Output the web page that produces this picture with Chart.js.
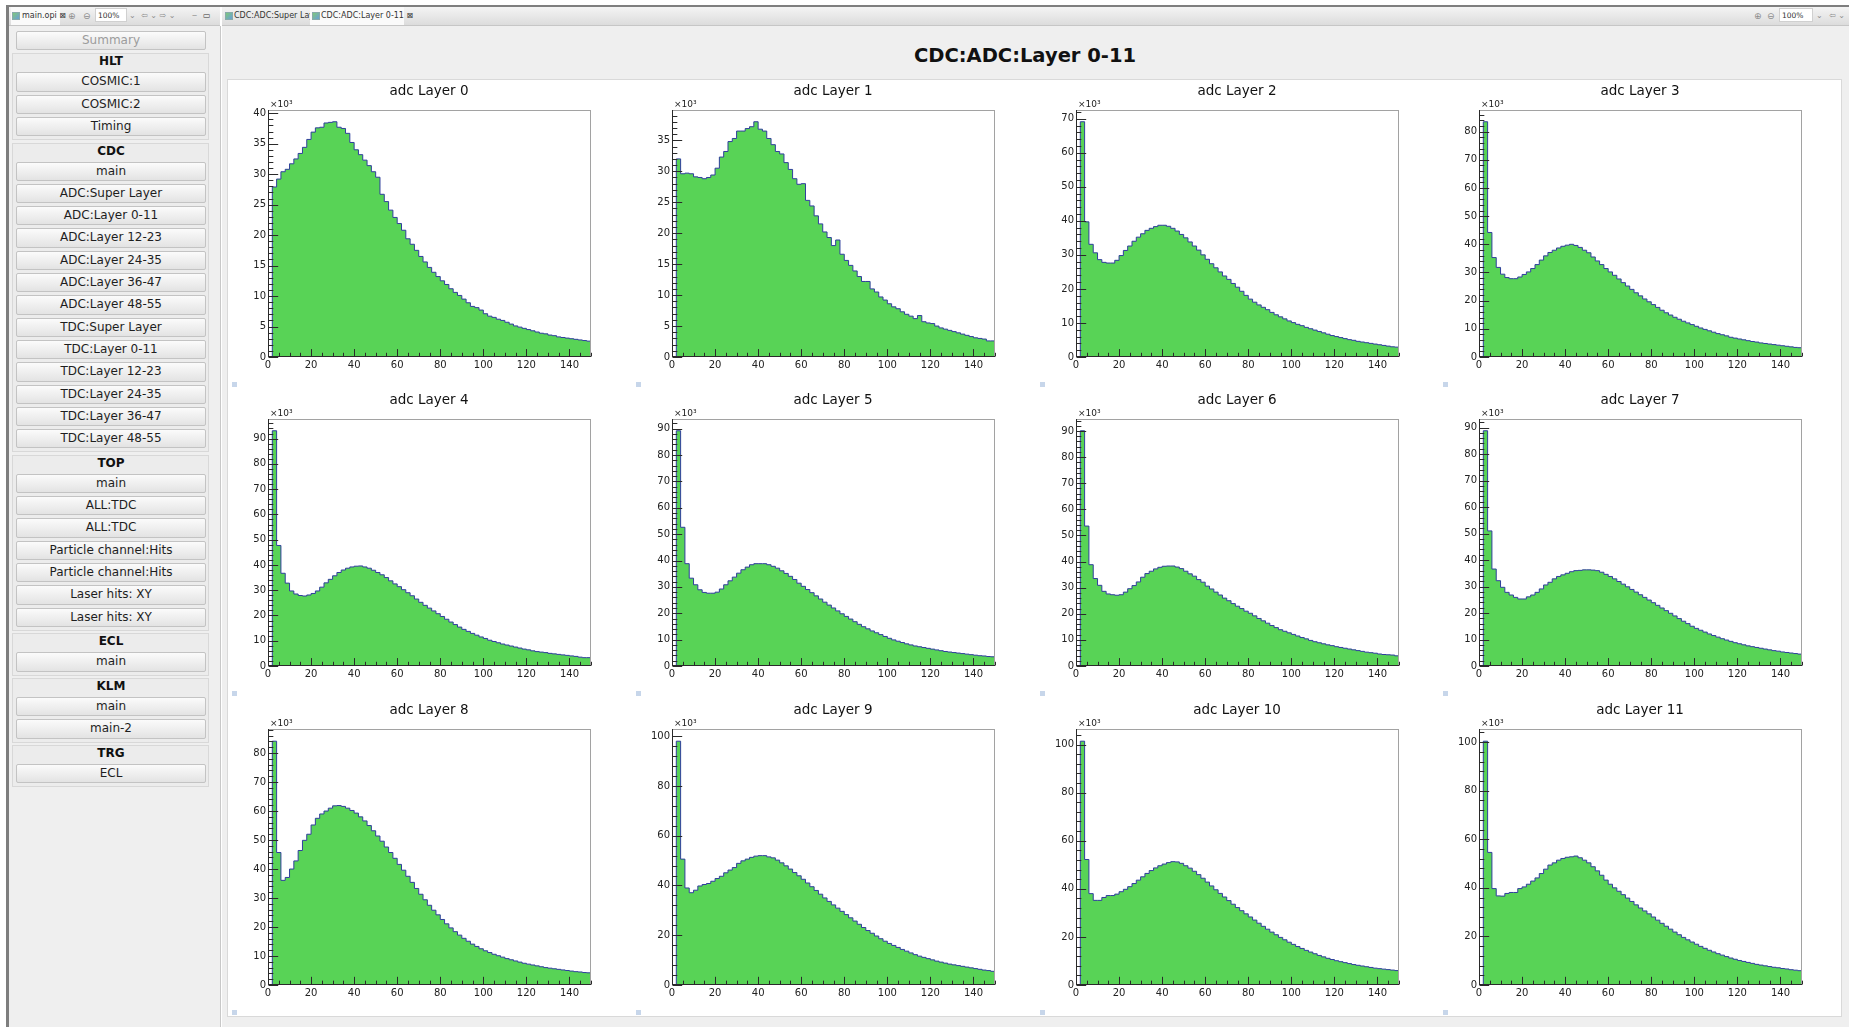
<!DOCTYPE html>
<html>
<head>
<meta charset="utf-8">
<title>CDC:ADC:Layer 0-11</title>
<script src="https://cdn.jsdelivr.net/npm/chart.js@4.4.1/dist/chart.umd.min.js"></script>
<style>
body { margin:0; width:1849px; height:1027px; overflow:hidden; background:#fff; font-family:"DejaVu Sans", sans-serif; position:relative; }
#edgeTop { position:absolute; left:6px; top:5px; width:1843px; height:2px; background:#7e7e7e; }
#edgeLeft { position:absolute; left:6px; top:5px; width:3px; height:1022px; background:#7e7e7e; }
.bar { position:absolute; top:7px; height:18px; background:linear-gradient(#f4f4f4,#dcdcdc); border-bottom:1px solid #c6c6c6; font-size:8px; color:#333; white-space:nowrap; }
.bar span { position:absolute; top:0; line-height:18px; }
.ico { width:8px; height:8px; top:5px !important; background:linear-gradient(135deg,#7fc97a,#6a9fd8); border:1px solid #8aa; box-sizing:border-box; }
.sel { background:#fafafa; height:18px; }
.zbox { background:#fff; border:1px solid #d0d0d0; height:14px; top:1px !important; line-height:14px !important; padding-left:2px; box-sizing:border-box; font-size:7.5px; }
.grey { color:#8c8c8c; }
#side { position:absolute; left:9px; top:26px; width:211px; height:1001px; background:#efefef; border-right:1px solid #c8c8c8; }
#menu { position:absolute; left:3px; top:5px; width:197px; }
.btn { box-sizing:border-box; width:190px; height:19.3px; border:1px solid #c3c3c3; border-radius:2px; background:linear-gradient(#fbfbfb,#e3e3e3); font-size:12px; line-height:17px; text-align:center; color:#1e1e1e; white-space:nowrap; }
#summary { margin-left:4px; margin-bottom:3px; color:#9c9c9c; }
.grp { box-sizing:border-box; width:197px; border:1px solid #d8d8d8; background:#ececec; padding:0 2px 0 3px; margin-bottom:2.4px; }
.grp h4 { margin:0; height:18px; line-height:14.4px; font-size:12px; font-weight:bold; text-align:center; color:#111; }
.grp .btn { margin-bottom:3px; }
#editor { position:absolute; left:222px; top:26px; width:1627px; height:1001px; background:#efefef; }
#title { position:absolute; left:825px; top:43px; width:400px; text-align:center; font-weight:bold; font-size:19.5px; line-height:26px; color:#111; }
#cbox { position:absolute; left:227px; top:79px; width:1615px; height:938px; background:#fff; border:1px solid #d9d9d9; box-sizing:border-box; }
.pad { position:absolute; }
.mark { position:absolute; width:5px; height:5px; background:#c7d6ea; }
</style>
</head>
<body>

<div id="edgeTop"></div>
<div id="edgeLeft"></div>

<!-- tab strip of the left view -->
<div class="bar" style="left:9px; width:211px;">
  <span class="sel" style="left:2px; width:49px;"></span>
  <span class="ico" style="left:3px;"></span>
  <span style="left:13px;">main.opi ⊠</span>
  <span class="grey" style="left:59px; font-size:9px;">⊕</span>
  <span class="grey" style="left:74px; font-size:9px;">⊖</span>
  <span class="zbox" style="left:86px; width:32px;">100%</span>
  <span class="grey" style="left:120px;">⌄</span>
  <span class="grey" style="left:132px;">⇦ ⌄ ⇨ ⌄</span>
  <span class="grey" style="left:183px;">‒</span>
  <span style="left:194px;">▭</span>
</div>

<!-- tab strip of the editor -->
<div class="bar" style="left:222px; width:1627px;">
  <span class="ico" style="left:3px;"></span>
  <span style="left:12px;">CDC:ADC:Super Layer</span>
  <span class="sel" style="left:88px; width:94px;"></span>
  <span class="ico" style="left:90px;"></span>
  <span style="left:99px;">CDC:ADC:Layer 0-11 ⊠</span>
  <span class="grey" style="left:1532px; font-size:9px;">⊕</span>
  <span class="grey" style="left:1545px; font-size:9px;">⊖</span>
  <span class="zbox" style="left:1557px; width:34px;">100%</span>
  <span class="grey" style="left:1594px;">⌄</span>
  <span class="grey" style="left:1607px;">⇦ ⌄</span>
</div>

<div id="side"><div id="menu"><div id="summary" class="btn">Summary</div></div></div>

<div id="editor"></div>
<div id="title">CDC:ADC:Layer 0-11</div>
<div id="cbox"></div>

<script>
// ---- data: counts per 2-wide ADC bin, in units of 10^3 ----
const layerTitles = ['adc Layer 0', 'adc Layer 1', 'adc Layer 2', 'adc Layer 3',
                     'adc Layer 4', 'adc Layer 5', 'adc Layer 6', 'adc Layer 7',
                     'adc Layer 8', 'adc Layer 9', 'adc Layer 10', 'adc Layer 11'];
const BIN_WIDTH = 2, X_MIN = 0, X_MAX = 150;
const xTickStep = 20;
const yTickStep = [5, 5, 10, 10, 10, 10, 10, 10, 10, 20, 20, 20];

const layer0 = [0, 27.9, 29.2, 30.4, 30.8, 31.7, 32.5, 33.4, 34.4, 35.7, 36.9, 37.6, 37.7, 38.4, 38.5,
  38.6, 37.7, 37.5, 36.7, 35.2, 34.0, 33.2, 32.3, 31.4, 30.4, 29.5, 26.7, 25.5, 24.1, 22.9,
  21.9, 20.8, 19.4, 18.5, 17.5, 16.5, 15.6, 14.7, 13.9, 13.2, 12.5, 11.9, 11.2, 10.6, 10.1,
  9.5, 8.9, 8.3, 8.1, 7.7, 7.1, 6.7, 6.5, 6.2, 6.0, 5.7, 5.4, 5.1, 4.9, 4.7,
  4.5, 4.3, 4.1, 3.9, 3.8, 3.6, 3.5, 3.3, 3.2, 3.1, 3.0, 2.9, 2.8, 2.7, 2.6];
const layer1 = [0, 32.0, 29.6, 29.7, 29.6, 29.1, 29.0, 28.8, 29.0, 29.4, 30.5, 32.3, 33.2, 34.8, 35.3,
  36.5, 36.5, 36.9, 37.2, 38.0, 36.8, 36.5, 35.3, 34.3, 33.2, 32.8, 31.4, 30.3, 28.8, 27.9,
  28.0, 25.3, 24.4, 22.8, 21.5, 20.2, 19.3, 18.0, 18.9, 16.6, 15.6, 14.8, 13.9, 13.0, 12.2,
  12.2, 11.0, 10.5, 9.7, 9.2, 8.6, 8.1, 7.8, 7.3, 6.9, 6.6, 6.2, 6.7, 5.7, 5.5,
  5.4, 5.0, 4.7, 4.5, 4.3, 4.1, 3.9, 3.7, 3.5, 3.3, 3.1, 3.0, 2.9, 2.6, 2.6];
const layer2 = [0, 69.1, 39.7, 33.1, 30.6, 28.6, 27.8, 27.6, 27.6, 28.4, 29.8, 31.3, 32.6, 34.0, 35.2,
  36.2, 37.2, 37.8, 38.3, 38.7, 38.7, 38.4, 37.8, 37.0, 36.0, 35.0, 33.8, 32.6, 31.4, 30.0,
  28.7, 27.4, 26.2, 25.0, 23.8, 22.8, 21.6, 20.5, 19.3, 18.1, 17.0, 16.1, 15.3, 14.6, 13.9,
  13.1, 12.4, 11.8, 11.2, 10.6, 10.1, 9.6, 9.2, 8.7, 8.3, 7.9, 7.5, 7.1, 6.7, 6.3,
  6.0, 5.7, 5.4, 5.1, 4.9, 4.6, 4.4, 4.2, 4.0, 3.8, 3.6, 3.4, 3.2, 3.0, 2.9];
const layer3 = [0, 83.5, 44.2, 35.3, 31.8, 29.4, 28.2, 27.8, 27.8, 28.4, 29.3, 30.2, 31.4, 32.8, 34.4,
  35.9, 37.1, 37.9, 38.7, 39.3, 39.7, 40.0, 39.6, 38.9, 37.9, 37.0, 35.5, 34.1, 32.8, 31.4,
  30.2, 29.0, 27.7, 26.4, 25.2, 24.0, 22.8, 21.7, 20.6, 19.6, 18.6, 17.6, 16.6, 15.7, 14.9,
  14.1, 13.4, 12.7, 12.1, 11.5, 10.9, 10.3, 9.8, 9.3, 8.8, 8.3, 7.9, 7.5, 7.0, 6.7,
  6.4, 6.1, 5.8, 5.5, 5.3, 5.0, 4.8, 4.6, 4.4, 4.2, 4.0, 3.8, 3.6, 3.4, 3.3];
const layer4 = [0, 93.1, 47.7, 36.7, 32.8, 29.7, 28.5, 27.9, 27.7, 28.1, 28.7, 29.7, 31.2, 32.9, 34.3,
  35.7, 37.0, 38.0, 38.7, 39.2, 39.5, 39.6, 39.2, 38.7, 37.9, 37.0, 36.1, 35.0, 33.7, 32.5,
  31.4, 30.2, 29.0, 27.8, 26.5, 25.2, 24.0, 22.9, 21.8, 20.7, 19.6, 18.5, 17.4, 16.4, 15.4,
  14.5, 13.7, 12.9, 12.2, 11.5, 10.9, 10.2, 9.7, 9.2, 8.7, 8.3, 7.9, 7.5, 7.1, 6.7,
  6.4, 6.0, 5.7, 5.5, 5.3, 5.0, 4.8, 4.6, 4.4, 4.2, 4.0, 3.8, 3.5, 3.3, 3.3];
const layer5 = [0, 89.2, 52.6, 38.8, 33.3, 30.8, 28.9, 27.9, 27.6, 27.6, 28.0, 29.2, 30.8, 32.3, 33.7,
  35.2, 36.5, 37.5, 38.4, 38.8, 38.8, 38.8, 38.4, 37.8, 37.1, 36.1, 35.1, 34.0, 32.8, 31.4,
  30.2, 29.0, 27.8, 26.6, 25.4, 24.2, 23.1, 22.0, 20.9, 19.8, 18.8, 17.8, 16.8, 15.8, 14.9,
  14.1, 13.3, 12.6, 11.9, 11.2, 10.5, 9.9, 9.4, 8.9, 8.4, 8.0, 7.6, 7.3, 7.0, 6.7,
  6.4, 6.1, 5.8, 5.5, 5.3, 5.1, 4.9, 4.7, 4.5, 4.3, 4.1, 3.9, 3.8, 3.6, 3.5];
const layer6 = [0, 90.1, 53.6, 38.8, 33.5, 30.9, 28.6, 27.6, 27.3, 27.1, 27.3, 28.3, 29.6, 30.8, 32.2,
  34.0, 35.4, 36.3, 37.2, 37.8, 38.2, 38.3, 38.3, 37.9, 37.3, 36.3, 35.3, 34.4, 33.1, 32.1,
  30.6, 29.5, 28.3, 27.2, 26.0, 25.0, 23.9, 22.9, 22.0, 21.0, 20.2, 19.2, 18.2, 17.3, 16.4,
  15.5, 14.7, 13.9, 13.3, 12.7, 12.1, 11.5, 10.9, 10.4, 9.8, 9.3, 8.9, 8.5, 8.1, 7.8,
  7.4, 7.1, 6.8, 6.5, 6.2, 5.9, 5.6, 5.3, 5.1, 4.9, 4.6, 4.4, 4.3, 4.2, 3.9];
const layer7 = [0, 88.8, 51.0, 36.6, 32.2, 29.7, 27.8, 26.8, 25.9, 25.3, 25.3, 26.1, 26.8, 27.8, 29.1,
  30.6, 31.6, 32.9, 33.8, 34.4, 35.0, 35.6, 36.0, 36.1, 36.3, 36.3, 36.2, 36.0, 35.4, 34.6,
  33.8, 32.9, 31.9, 30.9, 29.9, 28.9, 27.9, 26.9, 25.9, 24.9, 23.9, 22.9, 21.9, 20.9, 19.9,
  18.9, 17.9, 16.9, 16.0, 15.0, 14.2, 13.5, 12.8, 12.1, 11.5, 10.9, 10.3, 9.8, 9.3, 8.8,
  8.4, 8.0, 7.6, 7.3, 7.0, 6.7, 6.4, 6.1, 5.8, 5.6, 5.3, 5.1, 4.9, 4.7, 4.5];
const layer8 = [0, 84.1, 45.7, 36.1, 37.1, 40.0, 42.8, 46.4, 49.9, 52.0, 55.2, 57.5, 59.0, 60.0, 61.0,
  61.8, 61.9, 61.6, 61.0, 60.2, 59.3, 58.0, 56.6, 55.0, 53.2, 51.4, 49.6, 47.6, 45.7, 43.7,
  41.6, 39.6, 37.5, 35.4, 33.3, 31.3, 29.4, 27.5, 25.8, 24.2, 22.6, 21.1, 19.7, 18.4, 17.2,
  16.1, 15.1, 14.1, 13.3, 12.5, 11.8, 11.2, 10.6, 10.1, 9.6, 9.1, 8.7, 8.3, 7.9, 7.5,
  7.2, 6.9, 6.6, 6.3, 6.0, 5.8, 5.6, 5.4, 5.2, 5.0, 4.8, 4.6, 4.5, 4.3, 4.2];
const layer9 = [0, 98.0, 50.6, 39.0, 37.1, 38.1, 39.8, 40.4, 40.8, 41.7, 42.8, 43.7, 45.1, 46.2, 47.2,
  48.9, 49.9, 50.6, 51.3, 51.8, 52.0, 52.0, 51.5, 51.1, 50.2, 49.1, 47.9, 46.6, 45.2, 43.9,
  42.5, 41.0, 39.5, 38.0, 36.5, 35.0, 33.6, 32.2, 30.9, 29.6, 28.3, 27.0, 25.7, 24.4, 23.1,
  21.9, 20.8, 19.7, 18.6, 17.6, 16.7, 15.9, 15.1, 14.3, 13.6, 12.9, 12.2, 11.6, 11.1, 10.6,
  10.1, 9.6, 9.2, 8.8, 8.4, 8.1, 7.8, 7.5, 7.2, 6.9, 6.6, 6.3, 6.0, 5.8, 5.5];
const layer10 = [0, 101.4, 52.2, 38.0, 35.2, 35.2, 36.4, 37.2, 37.2, 37.8, 38.8, 39.8, 40.9, 42.2, 43.6,
  45.0, 46.4, 47.6, 48.7, 49.6, 50.3, 50.9, 51.3, 51.2, 50.6, 49.6, 48.6, 47.3, 45.9, 44.4,
  42.8, 41.2, 39.6, 38.1, 36.6, 35.1, 33.6, 32.2, 30.9, 29.6, 28.3, 27.0, 25.7, 24.4, 23.2,
  22.0, 20.9, 19.8, 18.8, 17.8, 16.9, 16.0, 15.2, 14.4, 13.7, 13.0, 12.3, 11.7, 11.1, 10.6,
  10.1, 9.7, 9.3, 8.9, 8.5, 8.2, 7.9, 7.6, 7.3, 7.0, 6.8, 6.6, 6.4, 6.2, 6.0];
const layer11 = [0, 100.4, 54.6, 39.7, 36.7, 36.6, 37.7, 38.1, 38.1, 39.7, 40.4, 41.5, 42.8, 44.1, 45.9,
  47.7, 49.4, 50.3, 51.4, 52.1, 52.6, 52.8, 53.1, 52.4, 51.4, 50.3, 48.7, 47.0, 45.2, 43.2,
  41.5, 40.0, 38.6, 37.2, 35.8, 34.4, 33.0, 31.7, 30.5, 29.3, 28.0, 26.7, 25.4, 24.2, 23.0,
  21.8, 20.7, 19.6, 18.6, 17.7, 16.8, 15.9, 15.1, 14.3, 13.6, 12.9, 12.3, 11.7, 11.1, 10.6,
  10.1, 9.7, 9.3, 8.9, 8.5, 8.2, 7.9, 7.6, 7.3, 7.1, 6.8, 6.6, 6.3, 6.1, 5.9];
const layerCounts = [layer0, layer1, layer2, layer3, layer4, layer5,
                     layer6, layer7, layer8, layer9, layer10, layer11];

// ---- side menu ----
const menuGroups = [
  ['HLT', ['COSMIC:1', 'COSMIC:2', 'Timing']],
  ['CDC', ['main', 'ADC:Super Layer', 'ADC:Layer 0-11', 'ADC:Layer 12-23', 'ADC:Layer 24-35',
           'ADC:Layer 36-47', 'ADC:Layer 48-55', 'TDC:Super Layer', 'TDC:Layer 0-11',
           'TDC:Layer 12-23', 'TDC:Layer 24-35', 'TDC:Layer 36-47', 'TDC:Layer 48-55']],
  ['TOP', ['main', 'ALL:TDC', 'ALL:TDC', 'Particle channel:Hits', 'Particle channel:Hits',
           'Laser hits: XY', 'Laser hits: XY']],
  ['ECL', ['main']],
  ['KLM', ['main', 'main-2']],
  ['TRG', ['ECL']]
];
const menu = document.getElementById('menu');
menuGroups.forEach(function (g) {
  const box = document.createElement('div');
  box.className = 'grp';
  const h = document.createElement('h4');
  h.textContent = g[0];
  box.appendChild(h);
  g[1].forEach(function (name) {
    const b = document.createElement('div');
    b.className = 'btn';
    b.textContent = name;
    box.appendChild(b);
  });
  menu.appendChild(box);
});

// ---- ROOT-like pad title, frame, inner ticks and exponent label ----
const rootAxes = {
  id: 'rootAxes',
  afterDatasetsDraw(chart, args, opts) {
    const ctx = chart.ctx, a = chart.chartArea;
    const x = chart.scales.x, y = chart.scales.y;
    const w = a.right - a.left, h = a.bottom - a.top;
    const L = Math.round(a.left) + 0.5, B = Math.round(a.bottom) - 0.5;
    ctx.save();
    ctx.lineWidth = 1;
    ctx.strokeStyle = '#a2a2a2';
    ctx.strokeRect(L, Math.round(a.top) + 0.5, Math.round(w) - 1, Math.round(h) - 1);

    ctx.strokeStyle = '#2a2a2a';
    ctx.beginPath();
    ctx.moveTo(L, a.top); ctx.lineTo(L, a.bottom);
    ctx.moveTo(a.left, B); ctx.lineTo(a.right, B);
    const minor = opts.yStep / 5;
    for (let i = 0; i * minor <= y.max; i++) {
      const py = Math.round(y.getPixelForValue(i * minor)) + 0.5;
      const len = i % 5 === 0 ? 0.03 * w : 0.015 * w;
      ctx.moveTo(L, py); ctx.lineTo(L + len, py);
    }
    for (let i = 0; i * 5 <= X_MAX; i++) {
      const px = Math.round(x.getPixelForValue(i * 5)) + 0.5;
      const len = i % 4 === 0 ? 0.03 * h : 0.015 * h;
      ctx.moveTo(px, B); ctx.lineTo(px, B - len);
    }
    ctx.stroke();

    ctx.fillStyle = '#222';
    ctx.font = '9px "DejaVu Sans"';
    ctx.textAlign = 'left';
    ctx.textBaseline = 'alphabetic';
    ctx.fillText('×10³', a.left + 2, a.top - 3);

    // pad title, centred on the whole pad
    ctx.fillStyle = '#111';
    ctx.font = '13.5px "DejaVu Sans"';
    ctx.textAlign = 'center';
    ctx.textBaseline = 'middle';
    ctx.fillText(opts.title, chart.width / 2, 12);
    ctx.restore();
  }
};

// pads: 4 columns x 3 rows inside the white canvas
const padLeft0 = 227, padPitch = 403.75, padW = 404;
const rowTop = [79, 388, 698];
const frameH = [247, 247, 256];

layerCounts.forEach(function (counts, k) {
  const col = k % 4, row = Math.floor(k / 4);
  const left = Math.round(padLeft0 + col * padPitch);
  const height = 31 + frameH[row] + 34;
  const pad = document.createElement('div');
  pad.className = 'pad';
  pad.style.left = left + 'px';
  pad.style.top = rowTop[row] + 'px';
  pad.style.width = padW + 'px';
  pad.style.height = height + 'px';
  const cv = document.createElement('canvas');
  pad.appendChild(cv);
  document.body.appendChild(pad);

  const mark = document.createElement('div');
  mark.className = 'mark';
  mark.style.left = (left + 5) + 'px';
  mark.style.top = (rowTop[row] + height - 9) + 'px';
  document.body.appendChild(mark);

  const pts = counts.map(function (v, i) { return { x: X_MIN + i * BIN_WIDTH, y: v }; });
  pts.push({ x: X_MAX, y: counts[counts.length - 1] });
  const peak = Math.max.apply(null, counts);

  new Chart(cv, {
    type: 'line',
    data: {
      datasets: [{
        data: pts,
        stepped: 'before',
        fill: 'origin',
        backgroundColor: '#58d356',
        borderColor: '#2f3f9c',
        borderWidth: 1,
        pointRadius: 0
      }]
    },
    options: {
      responsive: true,
      maintainAspectRatio: false,
      animation: false,
      devicePixelRatio: 1,
      layout: { padding: { top: 31, right: 40, bottom: 0, left: 0 } },
      plugins: {
        legend: { display: false },
        tooltip: { enabled: false },
        title: { display: false },
        rootAxes: { yStep: yTickStep[k], title: layerTitles[k] }
      },
      scales: {
        x: {
          type: 'linear', min: X_MIN, max: X_MAX,
          grid: { display: false, drawTicks: false, tickLength: 0 }, border: { display: false },
          ticks: {
            stepSize: xTickStep, includeBounds: false, autoSkip: false, maxRotation: 0,
            padding: 2, color: '#222', font: { family: 'DejaVu Sans', size: 10 }
          },
          afterFit: function (s) { s.height = 34; }
        },
        y: {
          min: 0, max: peak * 1.05,
          grid: { display: false, drawTicks: false, tickLength: 0 }, border: { display: false },
          ticks: {
            stepSize: yTickStep[k], includeBounds: false, padding: 2,
            color: '#222', font: { family: 'DejaVu Sans', size: 10 },
            callback: function (v) { return v; }
          },
          afterFit: function (s) { s.width = 41; }
        }
      }
    },
    plugins: [rootAxes]
  });
});
</script>
</body>
</html>
